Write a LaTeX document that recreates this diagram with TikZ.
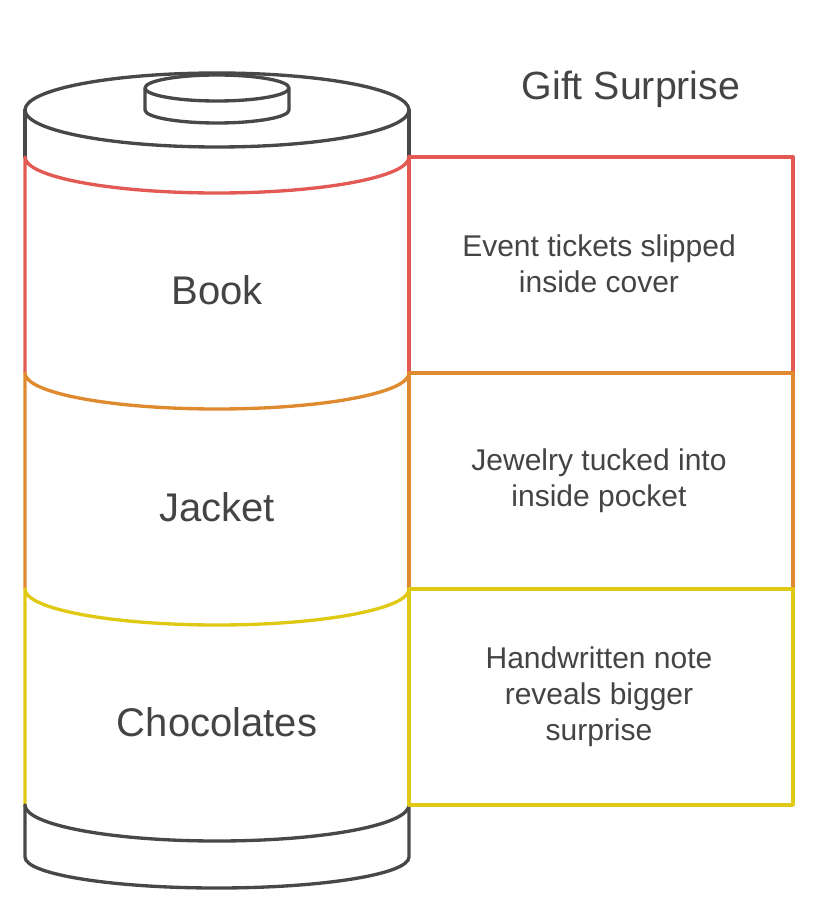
\documentclass[tikz,border=0pt]{standalone}
\usepackage{fontspec}
\setmainfont{Liberation Sans}
\definecolor{tinred}{HTML}{E35A54}
\definecolor{tinorange}{HTML}{E08A30}
\definecolor{tinyellow}{HTML}{E0C915}
\definecolor{tingray}{HTML}{484848}
\definecolor{txtgray}{HTML}{444444}
\tikzset{
  tin/.style   = {line width=2.5pt, line join=round, line cap=round},
  lbl/.style   = {text=txtgray, font=\fontsize{30}{35}\selectfont, align=center},
  desc/.style  = {text=txtgray, font=\fontsize{22.5}{27}\selectfont, align=center},
  title/.style = {text=txtgray, font=\fontsize{29.5}{34}\selectfont},
}
\begin{document}
\begin{tikzpicture}[x=0.75pt, y=-0.75pt]
  \useasboundingbox (0,0) rectangle (821,909);

  % lid
  \draw[tin, tingray] (217,110) ellipse [x radius=192, y radius=37];
  \draw[tin, tingray] (25,110) -- (25,157) (409,110) -- (409,157);
  \draw[tin, tingray, fill=white] (145,88) -- (145,110)
      arc[start angle=180, end angle=0, x radius=72, y radius=13] -- (289,88);
  \draw[tin, tingray, fill=white] (217,88) ellipse [x radius=72, y radius=13];

  % bands
  \draw[tin, tinred]    (25,157) -- (25,373) (409,157) -- (409,373)
      (25,157) arc[start angle=180, end angle=0, x radius=192, y radius=36];
  \draw[tin, tinorange] (25,373) -- (25,589) (409,373) -- (409,589)
      (25,373) arc[start angle=180, end angle=0, x radius=192, y radius=36];
  \draw[tin, tinyellow] (25,589) -- (25,805) (409,589) -- (409,805)
      (25,589) arc[start angle=180, end angle=0, x radius=192, y radius=36];

  % base
  \draw[tin, tingray] (25,805) arc[start angle=180, end angle=0, x radius=192, y radius=36];
  \draw[tin, tingray] (25,805) -- (25,857)
      arc[start angle=180, end angle=0, x radius=192, y radius=31] -- (409,805);

  % boxes
  \draw[tin, tinred]    (409,157) rectangle (793,373);
  \draw[tin, tinorange] (409,373) rectangle (793,589);
  \draw[tin, tinyellow] (409,589) rectangle (793,805);

  \node[lbl] (book)  at (217,290) {Book};
  \node[lbl] (jack)  at (217,507) {Jacket};
  \node[lbl] (choc)  at (217,722) {Chocolates};

  \node[desc] (bookd) at (599,264) {Event tickets slipped\\inside cover};
  \node[desc] (jackd) at (599,481) {Jewelry tucked into\\inside pocket};
  \node[desc] (chocd) at (599,697) {Handwritten note\\reveals bigger\\surprise};

  \node[title] (ttl) at (631,89) {Gift Surprise};
\end{tikzpicture}
\end{document}
